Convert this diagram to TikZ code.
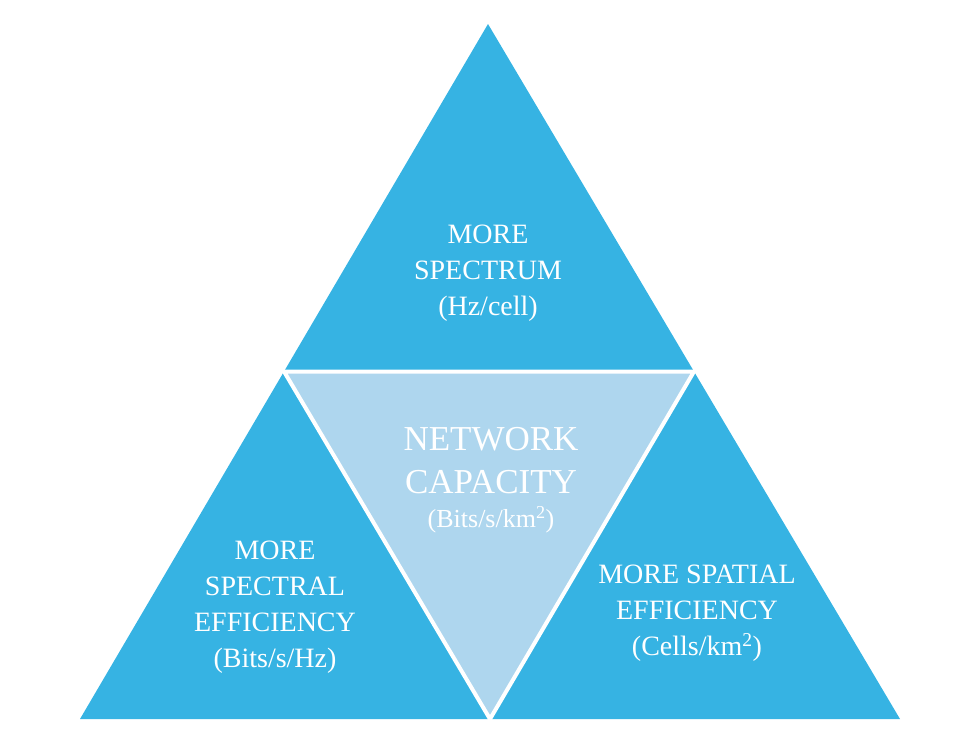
\documentclass[tikz,border=0pt]{standalone}
\usepackage{fontspec}
\setmainfont{Liberation Serif}
\definecolor{outerblue}{RGB}{54,179,227}
\definecolor{innerblue}{RGB}{174,214,238}
\begin{document}
\begin{tikzpicture}[x=1pt,y=-1pt,
  lbl/.style={text=white,align=center,font=\fontsize{28}{36}\selectfont,inner sep=0pt},
  biglbl/.style={text=white,align=center,font=\fontsize{35}{43}\selectfont,inner sep=0pt}]
\useasboundingbox (0,0) rectangle (979,747);
\coordinate (A) at (80,719);
\coordinate (B) at (488,24);
\coordinate (C) at (900,719);
\coordinate (L) at (284,371.5);
\coordinate (R) at (694,371.5);
\coordinate (M) at (490,719);
\fill[outerblue] (A) -- (B) -- (C) -- cycle;
\fill[innerblue] (L) -- (R) -- (M) -- cycle;
\draw[white,line width=4pt,line join=miter] (L) -- (R) -- (M) -- cycle;
\node[lbl] (top) at (488,273) {MORE\\SPECTRUM\\(Hz/cell)};
\node[biglbl] (mid) at (491,480) {NETWORK\\CAPACITY\\[-9pt]{\fontsize{26}{30}\selectfont (Bits/s/km\textsuperscript{2})}};
\node[lbl] (left) at (275,607) {MORE\\SPECTRAL\\EFFICIENCY\\(Bits/s/Hz)};
\node[lbl] (right) at (697,613) {MORE SPATIAL\\EFFICIENCY\\(Cells/km\textsuperscript{2})};
\end{tikzpicture}
\end{document}
